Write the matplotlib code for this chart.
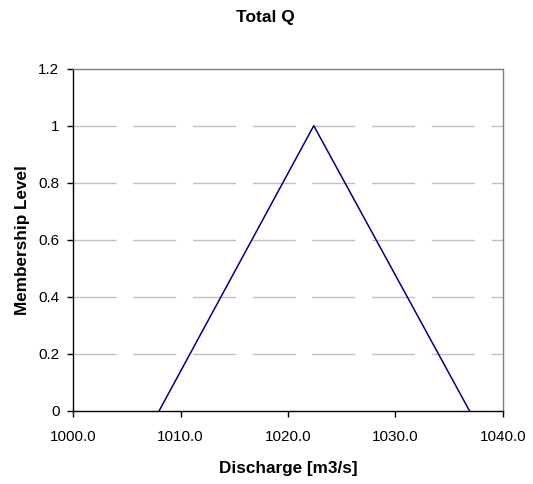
import matplotlib
matplotlib.use("Agg")
import matplotlib.pyplot as plt

# triangular membership function for total discharge
discharge = [1008.0, 1022.4, 1036.9]
membership = [0.0, 1.0, 0.0]

x_ticks = [1000, 1010, 1020, 1030, 1040]
y_ticks = [0, 0.2, 0.4, 0.6, 0.8, 1.0, 1.2]
y_labels = ["0", "0.2", "0.4", "0.6", "0.8", "1", "1.2"]

plt.rcParams['font.family'] = ['Liberation Sans', 'DejaVu Sans']

fig = plt.figure(figsize=(5.33, 4.84), dpi=100)
ax = fig.add_axes([0.1375, 0.1514, 0.9432 - 0.1375, 0.858 - 0.1514])

# dashed gridlines, drawn as plain lines so the dash pattern starts at the left edge
for yv in y_ticks[1:-1]:
    ax.plot([x_ticks[0], x_ticks[-1]], [yv, yv], color='#c0c0c0', linewidth=1,
            linestyle=(0, (31, 12)), zorder=1, clip_on=False)

ax.plot(discharge, membership, color='#000080', linewidth=1.1, zorder=3)

ax.set_xlim(1000, 1040)
ax.set_ylim(0, 1.2)
ax.set_xticks(x_ticks)
ax.set_xticklabels([f"{v:.1f}" for v in x_ticks], fontsize=11)
ax.set_yticks(y_ticks)
ax.set_yticklabels(y_labels, fontsize=11)
ax.tick_params(direction='out', length=4, width=1, color='black')
ax.tick_params(axis='x', pad=10)
ax.tick_params(axis='y', pad=6)

ax.spines['left'].set_color('black')
ax.spines['bottom'].set_color('black')
ax.spines['top'].set_color('#808080')
ax.spines['right'].set_color('#808080')
for s in ax.spines.values():
    s.set_linewidth(1)

ax.set_xlabel('Discharge [m3/s]', fontsize=12.3, fontweight='bold', labelpad=12)
ax.set_ylabel('Membership Level', fontsize=12.3, fontweight='bold', labelpad=6)
fig.text(0.497, 0.964, 'Total Q', ha='center', va='center', fontsize=12.5, fontweight='bold')

plt.savefig('out.png', dpi=100)
